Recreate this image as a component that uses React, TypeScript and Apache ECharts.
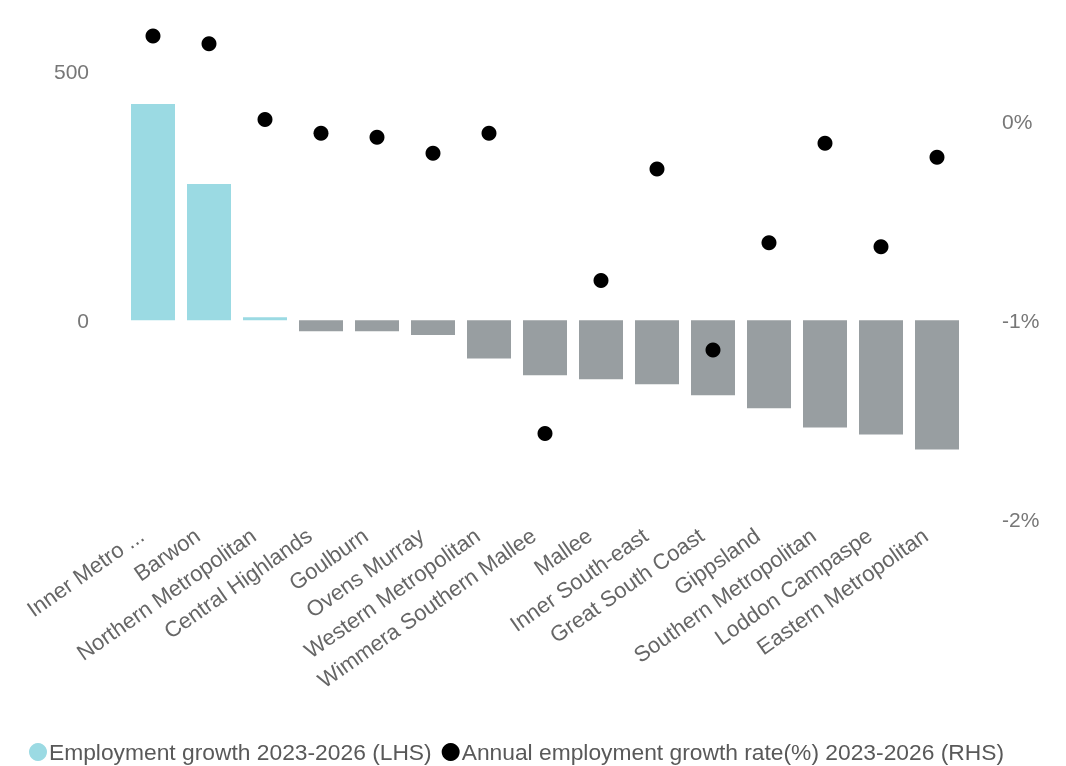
import React, { useEffect, useRef } from "react";
import * as echarts from "echarts";

const categories = [
  "Inner Metro ...",
  "Barwon",
  "Northern Metropolitan",
  "Central Highlands",
  "Goulburn",
  "Ovens Murray",
  "Western Metropolitan",
  "Wimmera Southern Mallee",
  "Mallee",
  "Inner South-east",
  "Great South Coast",
  "Gippsland",
  "Southern Metropolitan",
  "Loddon Campaspe",
  "Eastern Metropolitan",
];

const employmentGrowth = [435, 274, 6, -22, -22, -30, -77, -111, -119, -129, -151, -177, -216, -230, -260];

const growthRate = [0.43, 0.39, 0.01, -0.06, -0.08, -0.16, -0.06, -1.57, -0.8, -0.24, -1.15, -0.61, -0.11, -0.63, -0.18];

const leftTicksShown = [0, 500];
const rightTicksShown = [-2, -1, 0];

const seriesNames = [
  "Employment growth 2023-2026 (LHS)",
  "Annual employment growth rate(%) 2023-2026 (RHS)",
];

const POS = "#9bdae3";
const NEG = "#989ea1";
const FONT = "'Liberation Sans', Arial, sans-serif";

export default function App() {
  const ref = useRef<HTMLDivElement>(null);
  useEffect(() => {
    if (!ref.current) return;
    const chart = echarts.init(ref.current, undefined, { renderer: "svg" });
    chart.setOption({
      animation: false,
      grid: { left: 125, right: 101, top: 22, bottom: 247, containLabel: false, outerBoundsMode: "none" },
      legend: {
        top: 736,
        left: 24,
        padding: [4, 5, 2, 5],
        icon: "circle",
        itemWidth: 18,
        itemHeight: 18,
        itemGap: 10,
        textStyle: { fontFamily: FONT, fontSize: 22.8, lineHeight: 24, color: "#595959", padding: [0, 0, 0, -3] },
        data: seriesNames,
      },
      xAxis: {
        type: "category",
        data: categories,
        axisLine: { show: false, onZero: false },
        axisTick: { show: false },
        axisLabel: {
          rotate: 35,
          interval: 0,
          margin: 6,
          padding: [0, 14, 0, 0],
          fontFamily: FONT,
          fontSize: 22,
          color: "#666666",
        },
      },
      yAxis: [
        {
          type: "value",
          min: -400,
          max: 600,
          interval: 100,
          splitLine: { show: false },
          axisLine: { show: false },
          axisTick: { show: false },
          axisLabel: {
            fontFamily: FONT,
            fontSize: 21,
            color: "#777777",
            margin: 36,
            formatter: (v: number) => (leftTicksShown.includes(Math.round(v)) ? String(Math.round(v)) : ""),
          },
        },
        {
          type: "value",
          min: -2,
          max: 0.5,
          interval: 0.5,
          position: "right",
          splitLine: { show: false },
          axisLine: { show: false },
          axisTick: { show: false },
          axisLabel: {
            fontFamily: FONT,
            fontSize: 21,
            color: "#777777",
            margin: 37,
            formatter: (v: number) => {
              const r = Math.round(v * 10) / 10;
              return rightTicksShown.includes(r) ? `${r}%` : "";
            },
          },
        },
      ],
      series: [
        {
          name: seriesNames[0],
          type: "bar",
          yAxisIndex: 0,
          barWidth: 44,
          itemStyle: { color: POS },
          data: employmentGrowth.map((v) => ({ value: v, itemStyle: { color: v >= 0 ? POS : NEG } })),
        },
        {
          name: seriesNames[1],
          type: "scatter",
          yAxisIndex: 1,
          symbol: "circle",
          symbolSize: 15,
          itemStyle: { color: "#000000", opacity: 1 },
          data: growthRate,
        },
      ],
    });
    return () => chart.dispose();
  }, []);
  return <div ref={ref} style={{ position: "fixed", left: 0, top: 0, width: 1066, height: 766 }} />;
}
